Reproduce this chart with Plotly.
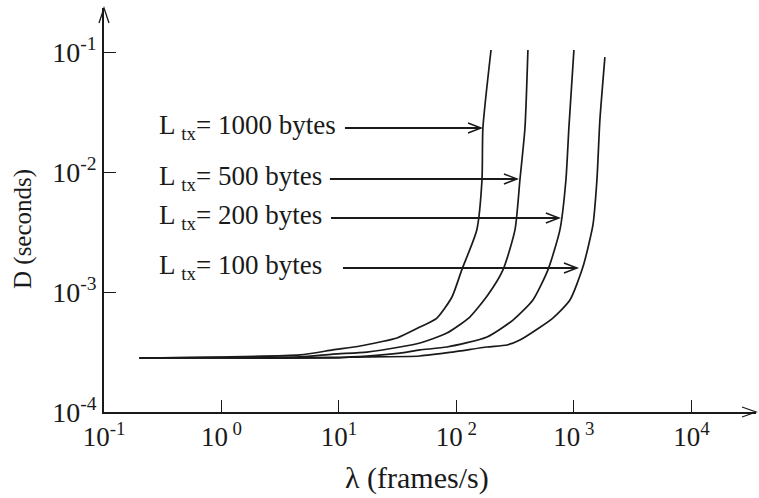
import plotly.graph_objects as go

# Offered load (frames/s) and mean delay D (s) for each transmission length
lam_1000 = [0.2, 0.99, 4.66, 8.89, 15.1, 22.3, 31.2, 47.0, 68.2, 91.6, 111, 149, 165, 168, 197]
d_1000 = [2.82e-4, 2.87e-4, 2.99e-4, 3.29e-4, 3.55e-4, 3.83e-4, 4.14e-4, 5.01e-4,
          6.07e-4, 9.09e-4, 1.53e-3, 3.29e-3, 8.58e-3, 0.0233, 0.104]

lam_500 = [0.2, 0.99, 4.66, 8.89, 17.3, 33.0, 48.9, 83.0, 130, 185, 249, 315, 347, 383, 406]
d_500 = [2.82e-4, 2.85e-4, 2.88e-4, 3.04e-4, 3.16e-4, 3.48e-4, 3.76e-4, 4.55e-4,
         6.19e-4, 9.44e-4, 1.53e-3, 3.29e-3, 8.58e-3, 0.0233, 0.104]

lam_200 = [0.2, 0.99, 8.89, 17.3, 33.0, 48.9, 83.0, 182, 303, 448, 601, 760, 855, 906, 1000]
d_200 = [2.82e-4, 2.82e-4, 2.85e-4, 2.93e-4, 3.10e-4, 3.29e-4, 3.48e-4, 4.22e-4,
         5.84e-4, 8.58e-4, 1.53e-3, 3.29e-3, 8.58e-3, 0.0233, 0.104]

lam_100 = [0.2, 0.99, 8.89, 12.4, 48.9, 93.3, 182, 269, 347, 662, 925, 1194, 1452, 1570, 1664, 1836]
d_100 = [2.82e-4, 2.82e-4, 2.82e-4, 2.86e-4, 2.93e-4, 3.16e-4, 3.48e-4, 3.62e-4,
         3.98e-4, 6.07e-4, 8.58e-4, 1.62e-3, 3.62e-3, 8.58e-3, 0.0271, 0.0908]

series = [
    (lam_1000, d_1000),
    (lam_500, d_500),
    (lam_200, d_200),
    (lam_100, d_100),
]

curve_labels = [
    "L <sub>tx</sub>= 1000 bytes",
    "L <sub>tx</sub>= 500 bytes",
    "L <sub>tx</sub>= 200 bytes",
    "L <sub>tx</sub>= 100 bytes",
]

x_tickvals = [0.1, 1, 10, 100, 1000, 10000]
x_ticktext = ["10<sup>-1</sup>", "10<sup> 0</sup>", "10<sup>1</sup>",
              "10<sup> 2</sup>", "10<sup> 3</sup>", "10<sup>4</sup>"]
y_tickvals = [1e-4, 1e-3, 1e-2, 1e-1]
y_ticktext = ["10<sup>-4</sup>", "10<sup>-3</sup>", "10<sup>-2</sup>", "10<sup>-1</sup>"]

INK = "#1a1a1a"
SERIF = "Liberation Serif, Times New Roman, serif"

W, H = 759, 498
M_L, M_R, M_T, M_B = 104, 3, 8, 86
X_RANGE = [-1.0, 4.55]
Y_RANGE = [-4.0, -0.633]
pw = W - M_L - M_R
ph = H - M_T - M_B
px_per_dec_x = pw / (X_RANGE[1] - X_RANGE[0])
px_per_dec_y = ph / (Y_RANGE[1] - Y_RANGE[0])

fig = go.Figure()
for lam, d in series:
    fig.add_trace(go.Scatter(
        x=lam, y=d, mode="lines",
        line=dict(color=INK, width=1.7, shape="spline", smoothing=0.6),
        showlegend=False, hoverinfo="skip",
    ))

# label text, arrow tail (log10 lambda), arrow tip (log10 lambda), arrow height (log10 D)
pointers = [
    (curve_labels[0], 1.051, 2.209, -1.633),
    (curve_labels[1], 0.923, 2.515, -2.058),
    (curve_labels[2], 0.932, 2.872, -2.383),
    (curve_labels[3], 1.034, 3.026, -2.80),
]

annotations = []
shapes = []
head_dx = 13 / px_per_dec_x
head_dy = 5 / px_per_dec_y
for text, tail, tip, yv in pointers:
    annotations.append(dict(
        x=-0.55, y=yv + 0.01, xref="x", yref="y", text=text, showarrow=False,
        xanchor="left", yanchor="middle",
        font=dict(family=SERIF, size=27, color=INK),
    ))
    shapes.append(dict(
        type="line", xref="x", yref="y",
        x0=10 ** tail, x1=10 ** tip, y0=10 ** yv, y1=10 ** yv,
        line=dict(color=INK, width=1.9),
    ))
    shapes.append(dict(
        type="path", xref="x", yref="y",
        path=(f"M {10 ** (tip - head_dx)},{10 ** (yv + head_dy)} "
              f"L {10 ** tip},{10 ** yv} "
              f"L {10 ** (tip - head_dx)},{10 ** (yv - head_dy)}"),
        line=dict(color=INK, width=1.5),
    ))

# open arrowheads closing both axes
shapes.append(dict(
    type="path", xref="paper", yref="paper",
    path=f"M {-5 / pw},{1 - 15 / ph} L 0,1 L {5 / pw},{1 - 15 / ph}",
    line=dict(color=INK, width=1.3),
))
shapes.append(dict(
    type="path", xref="paper", yref="paper",
    path=f"M {1 - 14 / pw},{5 / ph} L 1,0 L {1 - 14 / pw},{-5 / ph}",
    line=dict(color=INK, width=1.3),
))

# axis titles
annotations.append(dict(
    text="D (seconds)", xref="paper", yref="paper", x=(23 - M_L) / pw, y=(ph + M_T - 229) / ph,
    xanchor="center", yanchor="middle", textangle=-90, showarrow=False,
    font=dict(family=SERIF, size=25, color=INK),
))
annotations.append(dict(
    text="λ (frames/s)", xref="paper", yref="paper", x=(417 - M_L) / pw, y=(ph + M_T - 478) / ph,
    xanchor="center", yanchor="middle", showarrow=False,
    font=dict(family=SERIF, size=30, color=INK),
))

fig.update_layout(
    width=W, height=H,
    margin=dict(l=M_L, r=M_R, t=M_T, b=M_B),
    paper_bgcolor="white", plot_bgcolor="white",
    font=dict(family=SERIF, color=INK),
    annotations=annotations,
    shapes=shapes,
    xaxis=dict(
        type="log", range=X_RANGE,
        tickvals=x_tickvals, ticktext=x_ticktext,
        ticks="inside", ticklen=12, tickwidth=1.2, tickcolor=INK,
        showline=True, linecolor=INK, linewidth=2,
        showgrid=False, zeroline=False,
        tickfont=dict(family=SERIF, size=27, color=INK),
    ),
    yaxis=dict(
        type="log", range=Y_RANGE,
        tickvals=y_tickvals, ticktext=y_ticktext,
        ticks="inside", ticklen=12, tickwidth=1.2, tickcolor=INK,
        showline=True, linecolor=INK, linewidth=1.5,
        showgrid=False, zeroline=False,
        tickfont=dict(family=SERIF, size=28, color=INK),
    ),
)

fig.write_html("out.html")
